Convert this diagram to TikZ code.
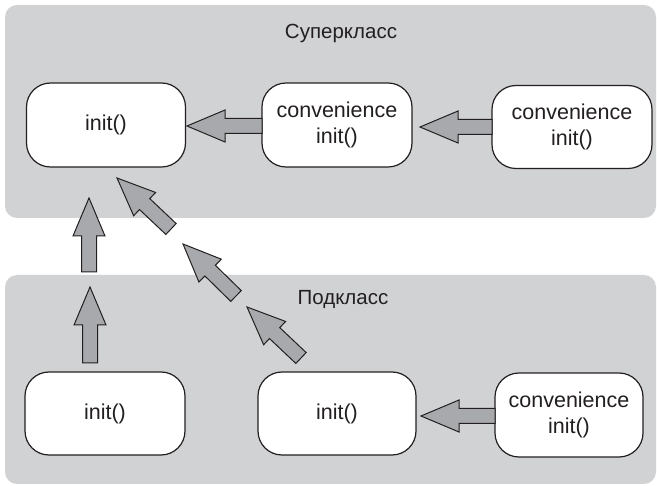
\documentclass[tikz,border=0pt]{standalone}
\usepackage{fontspec}
\setmainfont{Liberation Sans}
\usetikzlibrary{calc}

\definecolor{panelgrey}{HTML}{D1D2D4}
\definecolor{arrowgrey}{HTML}{A7A9AC}
\definecolor{inkdark}{HTML}{231F20}

\tikzset{
  panel/.style={fill=panelgrey, draw=none, rounded corners=12pt},
  initbox/.style={draw=inkdark, fill=white, line width=1.2pt, rounded corners=24pt,
    minimum width=#1, minimum height=84pt, inner sep=0pt, align=center,
    text=inkdark, font=\fontsize{21.5pt}{26pt}\selectfont},
  initbox/.default=159pt,
  paneltitle/.style={text=inkdark, font=\fontsize{20.5pt}{25pt}\selectfont, anchor=base, inner sep=0pt},
  fatarrow/.style={draw=inkdark, fill=arrowgrey, line width=1pt, line join=miter}
}

% Block arrow from #1 (tail) to #2 (tip)
\newcommand\fatarrow[2]{%
  \coordinate (fa-b) at ($(#2)!38pt!(#1)$);
  \draw[fatarrow]
    ($(#1)!7.5pt!90:(#2)$) -- ($(fa-b)!7.5pt!90:(#2)$) -- ($(fa-b)!16pt!90:(#2)$)
    -- (#2)
    -- ($(fa-b)!16pt!-90:(#2)$) -- ($(fa-b)!7.5pt!-90:(#2)$) -- ($(#1)!7.5pt!-90:(#2)$)
    -- cycle;}

\begin{document}
\begin{tikzpicture}[x=1pt, y=-1pt]
  \useasboundingbox (0,0) rectangle (657,486);

  % class panels
  \fill[panel] (5,5) rectangle (656,218);
  \fill[panel] (5,275) rectangle (656,484);
  \node[paneltitle] (super) at (341,39) {Суперкласс};
  \node[paneltitle] (sub) at (343,305) {Подкласс};

  % superclass initializers
  \node[initbox] (tl) at (106,125) {init()};
  \node[initbox=150pt] (tm) at (337,125) {convenience\\init()};
  \node[initbox=160pt, minimum height=83pt] (tr) at (572,127) {convenience\\init()};

  % subclass initializers
  \node[initbox=160pt, minimum height=83pt] (bl) at (105,413.5) {init()};
  \node[initbox=158pt, minimum height=83pt] (bm) at (337,413.5) {init()};
  \node[initbox=148pt] (br) at (569,415) {convenience\\init()};

  % arrow end points
  \coordinate (h1t) at (262,126);  \coordinate (h1h) at (187,126);
  \coordinate (h2t) at (492,127);  \coordinate (h2h) at (420,127);
  \coordinate (h3t) at (495,416);  \coordinate (h3h) at (421,416);
  \coordinate (v1t) at (89,272);   \coordinate (v1h) at (89,198);
  \coordinate (v2t) at (90,363);   \coordinate (v2h) at (90,287);
  \coordinate (d1t) at (171,229);  \coordinate (d1h) at (117,178);
  \coordinate (d2t) at (236,296);  \coordinate (d2h) at (183,244);
  \coordinate (d3t) at (301,358);  \coordinate (d3h) at (247,307);

  \fatarrow{h1t}{h1h}
  \fatarrow{h2t}{h2h}
  \fatarrow{h3t}{h3h}
  \fatarrow{v1t}{v1h}
  \fatarrow{v2t}{v2h}
  \fatarrow{d1t}{d1h}
  \fatarrow{d2t}{d2h}
  \fatarrow{d3t}{d3h}
\end{tikzpicture}
\end{document}
